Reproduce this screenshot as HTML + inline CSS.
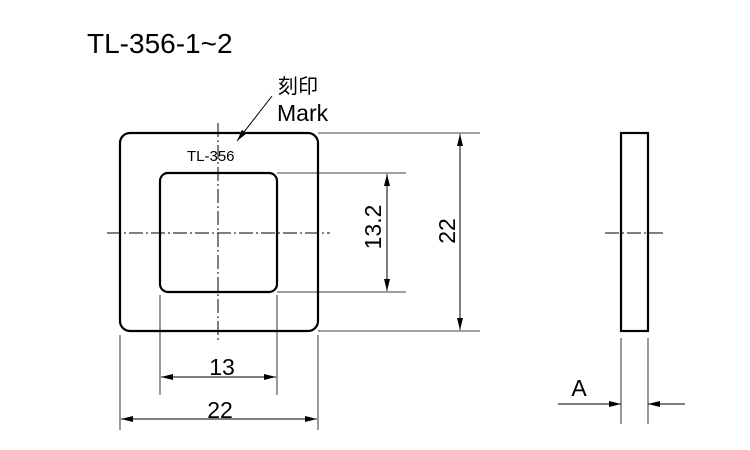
<!DOCTYPE html>
<html><head><meta charset="utf-8"><style>html,body{margin:0;padding:0;background:#fff}svg{display:block}</style></head>
<body>
<svg width="750" height="450" viewBox="0 0 750 450" xmlns="http://www.w3.org/2000/svg" font-family="Liberation Sans, Noto Sans CJK JP, sans-serif">
<defs>
<marker id="a" viewBox="0 0 12 6" refX="12" refY="3" markerWidth="12" markerHeight="6" markerUnits="userSpaceOnUse" orient="auto-start-reverse"><path d="M0,0L12,3L0,6z" fill="#000"/></marker>
</defs>
<text x="87" y="53" font-size="28">TL-356-1~2</text>
<text x="278" y="93" font-size="20">刻印</text>
<text x="277" y="121" font-size="23">Mark</text>
<text x="187" y="161" font-size="15">TL-356</text>
<line x1="272" y1="96" x2="237" y2="141" stroke="#000" stroke-width="1" marker-end="url(#a)"/>
<g fill="none" stroke="#000">
<rect x="120" y="133" width="198" height="198" rx="10" stroke-width="2.2"/>
<rect x="160" y="173" width="117" height="119" rx="8" stroke-width="2.2"/>
<g stroke-width="1" stroke-dasharray="14,3,2,3">
<line x1="218" y1="123" x2="218" y2="343"/>
<line x1="107" y1="233" x2="330" y2="233"/>
<line x1="605" y1="233" x2="663" y2="233"/>
</g>
<g stroke-width="0.8">
<line x1="318" y1="133" x2="480" y2="133"/>
<line x1="318" y1="331" x2="480" y2="331"/>
<line x1="277" y1="173" x2="406" y2="173"/>
<line x1="277" y1="292" x2="406" y2="292"/>
<line x1="120" y1="335" x2="120" y2="430"/>
<line x1="318" y1="335" x2="318" y2="430"/>
<line x1="160" y1="295" x2="160" y2="395"/>
<line x1="277" y1="295" x2="277" y2="395"/>
<line x1="621" y1="338" x2="621" y2="424"/>
<line x1="648" y1="338" x2="648" y2="424"/>
</g>
<g stroke-width="1">
<line x1="387" y1="174" x2="387" y2="291" marker-start="url(#a)" marker-end="url(#a)"/>
<line x1="460" y1="134" x2="460" y2="330" marker-start="url(#a)" marker-end="url(#a)"/>
<line x1="161" y1="377" x2="276" y2="377" marker-start="url(#a)" marker-end="url(#a)"/>
<line x1="121" y1="419" x2="317" y2="419" marker-start="url(#a)" marker-end="url(#a)"/>
<line x1="558" y1="404" x2="621" y2="404" marker-end="url(#a)"/>
<line x1="685" y1="404" x2="648" y2="404" marker-end="url(#a)"/>
</g>
<rect x="621" y="133" width="27" height="198" stroke-width="2.2"/>
</g>
<text x="222" y="375" font-size="23" text-anchor="middle">13</text>
<text x="220" y="418" font-size="23" text-anchor="middle">22</text>
<text x="579" y="396" font-size="23" text-anchor="middle">A</text>
<text transform="translate(381,227) rotate(-90)" font-size="23" text-anchor="middle">13.2</text>
<text transform="translate(455,231) rotate(-90)" font-size="23" text-anchor="middle">22</text>
</svg>
</body></html>
